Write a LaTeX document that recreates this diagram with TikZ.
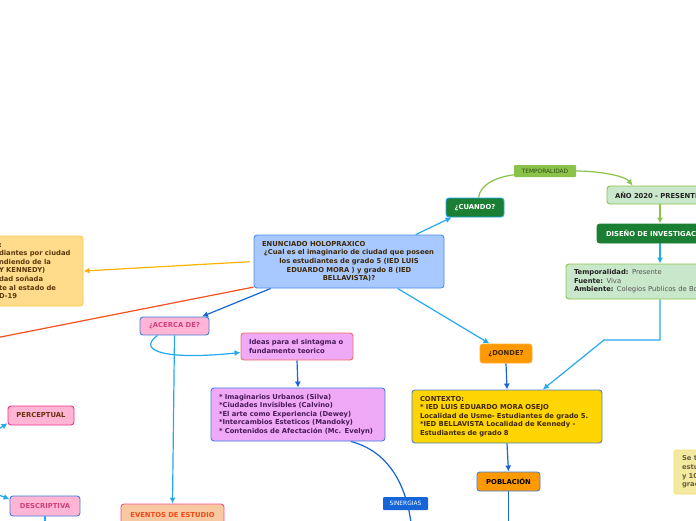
\documentclass[tikz,border=0pt]{standalone}
\usepackage{fontspec}
\setmainfont{DejaVu Sans}
\usetikzlibrary{arrows.meta,backgrounds}
\definecolor{mainF}{HTML}{A8C9FF}
\definecolor{mainB}{HTML}{4A8DEB}
\definecolor{mainT}{HTML}{40280A}
\definecolor{anteF}{HTML}{FFDB8C}
\definecolor{anteB}{HTML}{FFC94A}
\definecolor{anteT}{HTML}{5A3A0A}
\definecolor{dgreen}{HTML}{1B7F33}
\definecolor{tgreenF}{HTML}{8BC34A}
\definecolor{tgreenT}{HTML}{2E4A12}
\definecolor{lgreenF}{HTML}{C9E7CB}
\definecolor{lgreenB}{HTML}{8BC34A}
\definecolor{lblue}{HTML}{24A9F0}
\definecolor{blueB}{HTML}{3F7FE0}
\definecolor{dblue}{HTML}{1565D8}
\definecolor{orangeRed}{HTML}{F4511E}
\definecolor{orangeA}{HTML}{FFB300}
\definecolor{pinkF}{HTML}{FFB5D3}
\definecolor{pinkT}{HTML}{D0407A}
\definecolor{violetF}{HTML}{EFA9F7}
\definecolor{purpleT}{HTML}{4A1A5A}
\definecolor{coralB}{HTML}{F07060}
\definecolor{gold}{HTML}{FFD500}
\definecolor{orangeF}{HTML}{FF9900}
\definecolor{peach}{HTML}{F8C8A0}
\definecolor{redT}{HTML}{F04A1A}
\definecolor{pinkB}{HTML}{F0508A}
\definecolor{magB}{HTML}{F0308A}
\definecolor{percT}{HTML}{6A3010}
\definecolor{yellowF}{HTML}{F3E9A0}
\definecolor{yellowB}{HTML}{F0E070}
\definecolor{yellowT}{HTML}{6A6040}
\definecolor{darkT}{HTML}{222222}
\definecolor{grayT}{HTML}{555555}
\newcommand{\fs}{\fontsize{6.8}{8.6}\selectfont}
\tikzset{
  box/.style={draw, rounded corners=3pt, line width=0.9pt, inner sep=0pt, font=\fs\bfseries},
  tag/.style={rounded corners=1pt, inner sep=0pt, font=\fontsize{5.9}{7}\selectfont},
  arr/.style={-{Latex[length=6pt,width=6pt]}, line width=1.2pt},
  ln/.style={line width=1.2pt},
}
\begin{document}
\begin{tikzpicture}[x=1pt,y=-1pt]
\useasboundingbox (0,0) rectangle (696,520);
\clip (0,0) rectangle (696,520);

% nodes
\node[box, fill=anteF, draw=anteB, text=anteT, text width=75pt, inner xsep=9pt, minimum height=70pt, align=left] (ante) at (36.5,271)
 {\mbox{:}\\ \mbox{diantes por ciudad}\\ \mbox{ndiendo de la}\\ \mbox{Y KENNEDY)}\\ \mbox{dad soñada}\\ \mbox{te al estado de}\\ \mbox{D-19}};

\node[box, fill=mainF, draw=mainB, text=mainT, text width=182pt, inner xsep=4pt, minimum height=53pt, align=center] (main) at (349,261.5)
 {\makebox[182pt][l]{\hspace{4pt}ENUNCIADO HOLOPRAXICO}\\ \mbox{¿Cual es el imaginario de ciudad que poseen}\\ los estudiantes de grado 5 (IED LUIS\\ EDUARDO MORA ) y grado 8 (IED\\ BELLAVISTA)?};

\node[box, fill=dgreen, draw=lblue, text=white, minimum width=58pt, minimum height=19pt] (cuando) at (475,207.5) {¿CUANDO?};
\node[tag, fill=tgreenF, text=tgreenT, minimum width=62pt, minimum height=12pt] (temp) at (545,171) {TEMPORALIDAD};
\node[box, fill=lgreenF, draw=lgreenB, text=darkT, text width=90pt, inner xsep=8pt, minimum height=18pt, align=left] (ano) at (660,195) {\mbox{AÑO 2020 - PRESENTE}};
\node[box, fill=dgreen, draw=dgreen, text=white, text width=108pt, inner xsep=9pt, minimum height=19pt, align=left] (dis) at (660,233.5) {\mbox{DISEÑO DE INVESTIGACIÓN}};
\node[box, font=\fs, fill=lgreenF, draw=lgreenB, text=grayT, text width=172pt, inner xsep=8pt, minimum height=35pt, align=left] (tb) at (660,281.5)
 {\mbox{\textcolor{darkT}{\bfseries Temporalidad:} Presente}\\ \mbox{\textcolor{darkT}{\bfseries Fuente:} Viva}\\ \mbox{\textcolor{darkT}{\bfseries Ambiente:} Colegios Publicos de Bogotá}};

\node[box, fill=pinkF, draw=blueB, text=pinkT, minimum width=69pt, minimum height=18pt] (acerca) at (174.5,326) {¿ACERCA DE?};
\node[box, fill=violetF, draw=coralB, text=purpleT, text width=96pt, inner xsep=8pt, minimum height=27pt, align=left] (ideas) at (297,346.5)
 {\mbox{Ideas para el sintagma o}\\ fundamento teorico};
\node[box, fill=violetF, draw=blueB, text=purpleT, text width=158pt, inner xsep=8pt, minimum height=53pt, align=left] (imag) at (298,414.5)
 {\mbox{* Imaginarios Urbanos (Silva)}\\ \mbox{*Ciudades Invisibles (Calvino)}\\ \mbox{*El arte como Experiencia (Dewey)}\\ \mbox{*Intercambios Esteticos (Mandoky)}\\ \mbox{* Contenidos de Afectación (Mc. Evelyn)}};

\node[box, fill=orangeF, draw=orangeF!80!white, text=mainT, minimum width=52pt, minimum height=19pt] (donde) at (506,353.5) {¿DONDE?};
\node[box, fill=gold, draw=blueB!70!gray, text=mainT, text width=174pt, inner xsep=8pt, minimum height=53pt, align=left] (ctx) at (507,416.5)
 {CONTEXTO:\\ \mbox{* IED LUIS EDUARDO MORA OSEJO}\\ \mbox{Localidad de Usme- Estudiantes de grado 5.}\\ \mbox{*IED BELLAVISTA Localidad de Kennedy -}\\ Estudiantes de grado 8};
\node[box, fill=orangeF, draw=blueB, text=black, minimum width=63pt, minimum height=19pt] (pob) at (508.5,481.5) {POBLACIÓN};
\node[tag, fill=dblue, text=white, minimum width=45pt, minimum height=13pt] (sin) at (405.5,503.5) {SINERGIAS};
\node[box, fill=peach, draw=pinkB, text=redT, minimum width=103pt, minimum height=22pt] (ev) at (172.5,515) {EVENTOS DE ESTUDIO};
\node[box, fill=pinkF, draw=magB, text=percT, minimum width=66pt, minimum height=19pt] (perc) at (41,415.5) {PERCEPTUAL};
\node[box, fill=pinkF, draw=blueB, text=pinkT, minimum width=70pt, minimum height=20pt] (desc) at (45,506) {DESCRIPTIVA};
\node[box, fill=yellowF, draw=yellowB, text=yellowT, text width=70pt, inner xsep=8pt, minimum height=44pt, align=left] (se) at (717,472)
 {Se t\\ estu\\ y 10\\ grad};

% free ends
\coordinate (offL) at (-50,347);
\coordinate (offB) at (412,532);
\coordinate (offPob) at (508.5,532);
\coordinate (offDesc) at (45,532);
\coordinate (offP) at (-40,454);
\coordinate (offD) at (-40,480);
\coordinate (bendA) at (660,340);
\coordinate (bendB) at (604,340);

\begin{scope}[on background layer]
\fill[white] (0,0) rectangle (696,520);
\draw[arr, color=orangeA, shorten <=4pt] (main.west) -- (ante.east);
\draw[ln, color=orangeRed] (main.195) -- (offL);
\draw[arr, color=dblue] (main.199) -- (acerca.19);
\draw[arr, color=lblue] (main.22.5) -- (cuando.203);
\draw[arr, color=lblue] (main.-29.4) -- (donde.149);
\draw[ln, color=tgreenF] (cuando.70) .. controls (480,184) and (497,177) .. (temp.187);
\draw[arr, color=tgreenF] (temp.east) .. controls (600,171) and (625,176) .. (ano.161);
\draw[arr, color=tgreenF] (ano.south) -- (dis.north);
\draw[arr, color=lblue] (dis.south) -- (tb.north);
\draw[arr, color=lblue] (tb.south) -- (bendA) -- (bendB) -- (ctx.37);
\draw[arr, color=lblue] (acerca.209) .. controls (135,352) and (170,360) .. (ideas.186);
\draw[arr, color=lblue] (acerca.south) -- (ev.north);
\draw[arr, color=dblue] (ideas.south) -- (imag.north);
\draw[ln, color=dblue] (imag.333) .. controls (390.6,451.9) and (408.3,488.2) .. (offB);
\draw[arr, color=dblue] (donde.south) -- (ctx.north);
\draw[arr, color=dblue] (ctx.south) -- (pob.north);
\draw[ln, color=dblue] (pob.south) -- (offPob);
\draw[ln, color=lblue] (desc.south) -- (offDesc);
\draw[arr, color=lblue] (offP) -- (perc.193);
\draw[arr, color=lblue] (offD) -- (desc.169);
\end{scope}
\end{tikzpicture}
\end{document}
